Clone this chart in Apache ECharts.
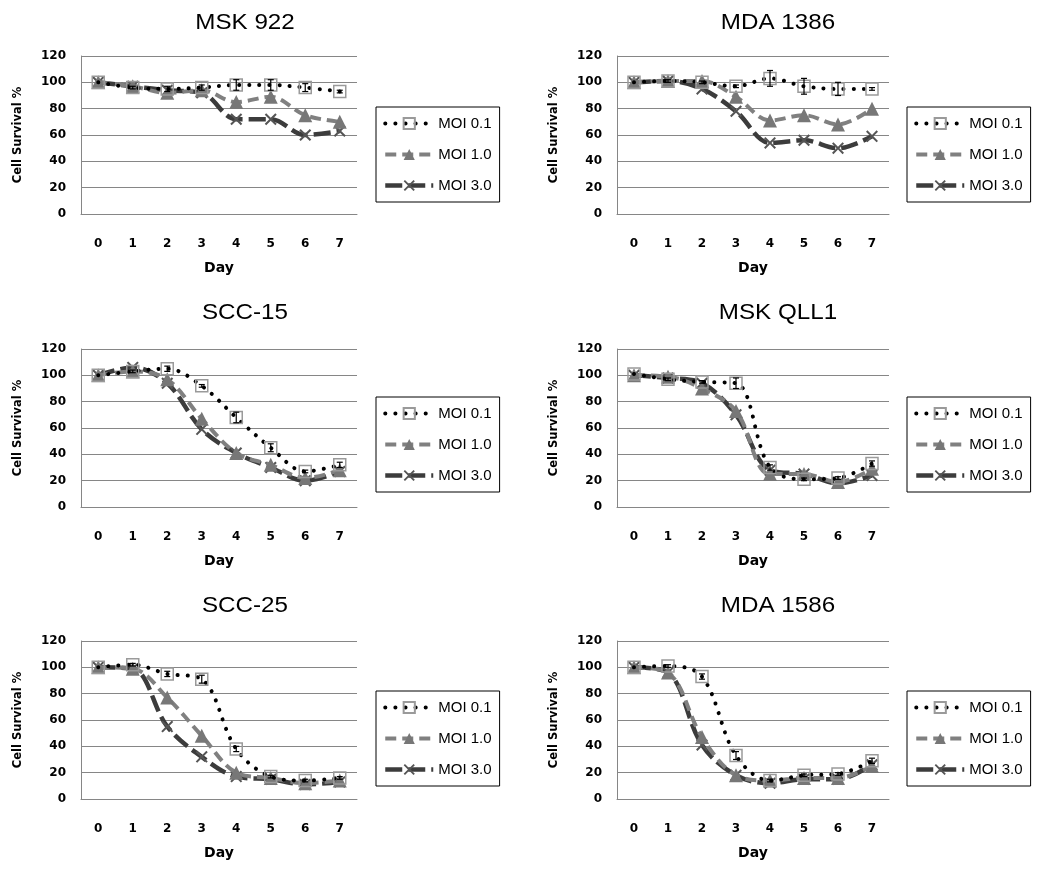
<!DOCTYPE html>
<html><head><meta charset="utf-8">
<script src="https://cdn.jsdelivr.net/npm/echarts@6/dist/echarts.min.js"></script>
<style>html,body{margin:0;padding:0;background:#fff}#c{width:1050px;height:876px}</style>
</head><body><div id="c"></div>
<script>
// ---------- data ----------
const days = ['0', '1', '2', '3', '4', '5', '6', '7'];
const seriesNames = ['MOI 0.1', 'MOI 1.0', 'MOI 3.0'];
const panelTitles = ['MSK 922', 'MDA 1386', 'SCC-15', 'MSK QLL1', 'SCC-25', 'MDA 1586'];
const yMin = 0, yMax = 120, yStep = 20;

// MSK 922
const msk922_moi01 = [100, 96, 95, 96, 98, 98, 96, 93];
const msk922_moi10 = [100, 97, 92, 94, 85, 89, 75, 70];
const msk922_moi30 = [100, 97, 94, 92, 72, 72, 60, 63];
const msk922_err01 = [0, 1, 2, 2, 4, 4, 3, 1];
// MDA 1386
const mda1386_moi01 = [100, 101, 100, 97, 103, 97, 95, 95];
const mda1386_moi10 = [100, 101, 101, 89, 71, 75, 68, 80];
const mda1386_moi30 = [100, 101, 95, 78, 54, 56, 50, 59];
const mda1386_err01 = [0, 1, 1, 1, 6, 6, 5, 1];
// SCC-15
const scc15_moi01 = [100, 103, 105, 92, 68, 45, 27, 32];
const scc15_moi10 = [100, 103, 97, 67, 41, 32, 22, 28];
const scc15_moi30 = [100, 106, 94, 59, 41, 30, 20, 27];
const scc15_err01 = [0, 1, 2, 1, 4, 3, 1, 2];
// MSK QLL1
const mskqll1_moi01 = [101, 97, 95, 94, 30, 21, 22, 33];
const mskqll1_moi10 = [100, 99, 90, 73, 25, 25, 19, 29];
const mskqll1_moi30 = [100, 98, 94, 70, 28, 25, 18, 24];
const mskqll1_err01 = [0, 1, 1, 4, 2, 1, 1, 2];
// SCC-25
const scc25_moi01 = [100, 102, 95, 91, 38, 17, 14, 16];
const scc25_moi10 = [100, 99, 77, 48, 20, 16, 12, 14];
const scc25_moi30 = [100, 99, 55, 32, 17, 15, 11, 13];
const scc25_err01 = [0, 1, 2, 3, 2, 1, 1, 1];
// MDA 1586
const mda1586_moi01 = [100, 101, 93, 33, 14, 18, 19, 29];
const mda1586_moi10 = [100, 96, 47, 18, 14, 16, 16, 25];
const mda1586_moi30 = [100, 96, 41, 18, 12, 15, 15, 26];
const mda1586_err01 = [0, 1, 2, 3, 1, 1, 1, 2];

const panelSeries = [
  [msk922_moi01, msk922_moi10, msk922_moi30, msk922_err01],
  [mda1386_moi01, mda1386_moi10, mda1386_moi30, mda1386_err01],
  [scc15_moi01, scc15_moi10, scc15_moi30, scc15_err01],
  [mskqll1_moi01, mskqll1_moi10, mskqll1_moi30, mskqll1_err01],
  [scc25_moi01, scc25_moi10, scc25_moi30, scc25_err01],
  [mda1586_moi01, mda1586_moi10, mda1586_moi30, mda1586_err01]
];

// ---------- layout ----------
const colGridLeft = [81, 617];
const colGridWidth = [276, 272];
const colLegendLeft = [376, 907];
const colTitleX = [245, 778];
const rowGridTop = [56, 349, 641];
const rowTitleY = [23, 313, 606];
const rowLegendTop = [107, 397, 691];
const gridHeight = 158;

const tickFont = '"DejaVu Sans", sans-serif';
const xPath = 'path://M0,1.2L1.2,0L5,3.8L8.8,0L10,1.2L6.2,5L10,8.8L8.8,10L5,6.2L1.2,10L0,8.8L3.8,5Z';

const styles = [
  { color: '#000', line: { color: '#000', width: 4, type: [0.1, 10], cap: 'round' },
    symbol: 'rect', symbolSize: 12, item: { color: 'rgba(255,255,255,0)', borderColor: '#9a9a9a', borderWidth: 1.5 } },
  { color: '#7f7f7f', line: { color: '#808080', width: 4, type: [11, 6], cap: 'butt' },
    symbol: 'triangle', symbolSize: 14, item: { color: '#777777', borderWidth: 0 } },
  { color: '#404040', line: { color: '#3c3c3c', width: 4.5, type: [17, 6], cap: 'butt' },
    symbol: xPath, symbolSize: 12, item: { color: '#555555', borderWidth: 0 } }
];

const grids = [], xAxes = [], yAxes = [], series = [], legends = [], graphics = [];

for (let p = 0; p < 6; p++) {
  const col = p % 2, row = Math.floor(p / 2);
  grids.push({ left: colGridLeft[col], top: rowGridTop[row], width: colGridWidth[col], height: gridHeight, containLabel: false });
  xAxes.push({
    type: 'category', gridIndex: p, data: days, boundaryGap: true,
    axisLine: { show: true, lineStyle: { color: '#868686', width: 1 } },
    axisTick: { show: false },
    axisLabel: { margin: 24, color: '#000', fontFamily: tickFont, fontWeight: 'bold', fontSize: 12 },
    name: 'Day', nameLocation: 'middle', nameGap: 47,
    nameTextStyle: { color: '#000', fontFamily: tickFont, fontWeight: 'bold', fontSize: 14 }
  });
  yAxes.push({
    type: 'value', gridIndex: p, min: yMin, max: yMax, interval: yStep,
    axisLine: { show: true, lineStyle: { color: '#868686', width: 1 } },
    axisTick: { show: false },
    splitLine: { show: true, lineStyle: { color: '#868686', width: 1 } },
    axisLabel: { margin: 15, color: '#000', fontFamily: tickFont, fontWeight: 'bold', fontSize: 12 },
    name: 'Cell Survival %', nameLocation: 'middle', nameGap: 57,
    nameTextStyle: { color: '#000', fontFamily: tickFont, fontWeight: 'bold', fontSize: 11.5 }
  });
  const data = panelSeries[p];
  for (let s = 0; s < 3; s++) {
    const st = styles[s];
    series.push({
      type: 'line', name: seriesNames[s], xAxisIndex: p, yAxisIndex: p,
      data: data[s], smooth: 0.35, symbol: st.symbol, symbolSize: st.symbolSize,
      showAllSymbol: true, color: st.color,
      lineStyle: st.line, itemStyle: st.item, z: 5 - s, animation: false
    });
  }
  const vals = data[0], errs = data[3];
  series.push({
    type: 'custom', xAxisIndex: p, yAxisIndex: p, silent: true, z: 10, animation: false,
    data: vals.map((v, i) => [i, v, errs[i]]),
    encode: { x: 0, y: 1 },
    renderItem(params, api) {
      const x = api.value(0), v = api.value(1), e = api.value(2);
      if (!e) return null;
      const t = api.coord([x, v + e]), b = api.coord([x, v - e]);
      const hw = 3, st = { stroke: '#000', lineWidth: 1.2 };
      return { type: 'group', children: [
        { type: 'line', shape: { x1: t[0], y1: t[1], x2: b[0], y2: b[1] }, style: st },
        { type: 'line', shape: { x1: t[0] - hw, y1: t[1], x2: t[0] + hw, y2: t[1] }, style: st },
        { type: 'line', shape: { x1: b[0] - hw, y1: b[1], x2: b[0] + hw, y2: b[1] }, style: st }
      ] };
    }
  });
  graphics.push({
    type: 'text', x: colTitleX[col], y: rowTitleY[row], scaleX: 1.1,
    style: { text: panelTitles[p], fill: '#000', font: '22px "Liberation Sans", Arial, sans-serif',
      textAlign: 'center', textVerticalAlign: 'middle' }
  });
  legends.push({
    left: colLegendLeft[col], top: rowLegendTop[row], orient: 'vertical',
    data: seriesNames, itemWidth: 48, itemHeight: 14, itemGap: 16,
    padding: [9, 8, 9, 7], borderColor: '#000', borderWidth: 1,
    selectedMode: false,
    lineStyle: { width: 'inherit' },
    textStyle: { color: '#000', fontSize: 15, fontFamily: '"Liberation Sans", Arial, sans-serif' }
  });
}

const chart = echarts.init(document.getElementById('c'), null, { renderer: 'canvas' });
chart.setOption({
  backgroundColor: '#fff', animation: false,
  grid: grids, xAxis: xAxes, yAxis: yAxes, series: series, legend: legends, graphic: graphics
});
</script></body></html>
